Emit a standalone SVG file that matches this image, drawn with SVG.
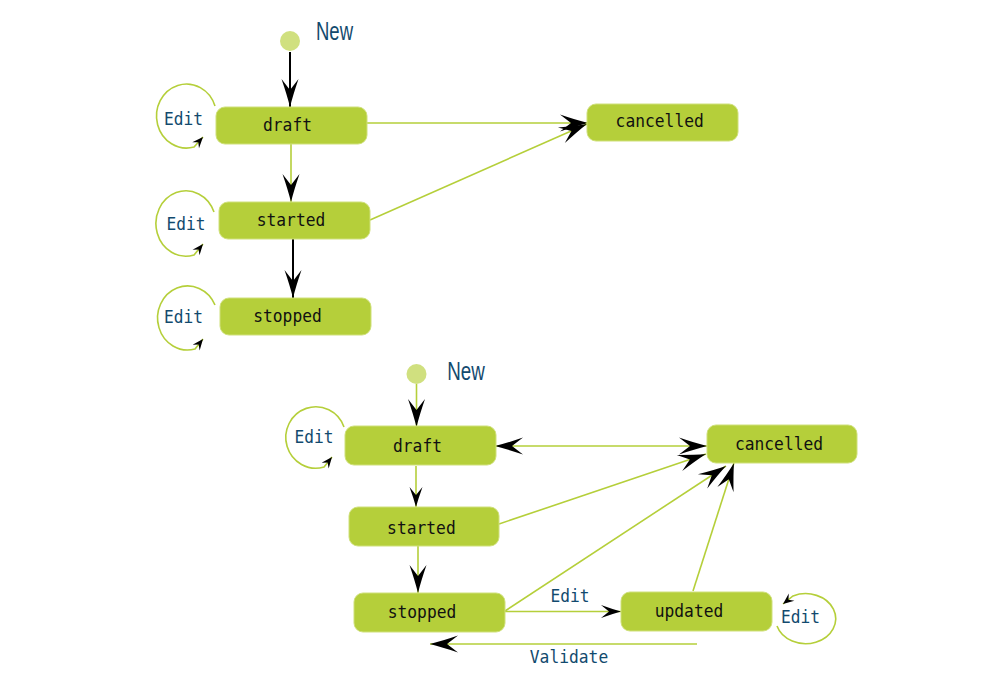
<svg xmlns="http://www.w3.org/2000/svg" width="987" height="698" viewBox="0 0 987 698">
<style>
.node rect{fill:#b5cf3a;stroke:#cfe07a;stroke-width:1}
.node text{font-family:"DejaVu Sans Mono","Liberation Mono",monospace;font-size:17.5px;fill:#111;text-anchor:middle}
.lbl{font-family:"DejaVu Sans Mono","Liberation Mono",monospace;font-size:17.5px;fill:#124a6e;text-anchor:middle}
.new{font-family:"Liberation Sans",Arial,sans-serif;font-size:25px;fill:#124a6e}
.init{fill:#d0e07f}
.g{fill:none;stroke:#b5cf3a;stroke-width:1.6}
.k{fill:none;stroke:#000;stroke-width:2}
.loop{fill:none;stroke:#b5cf3a;stroke-width:1.6;marker-end:url(#sm)}
</style>
<defs>
<marker id="ah" markerUnits="userSpaceOnUse" viewBox="-30 -10 32 20" markerWidth="32" markerHeight="20" refX="0" refY="0" orient="auto-start-reverse" overflow="visible">
<path d="M0,0 Q-12,-3 -28,-8.5 L-17,0 L-28,8.5 Q-12,3 0,0Z" fill="#000"/>
</marker>
<marker id="am" markerUnits="userSpaceOnUse" viewBox="-22 -8 24 16" markerWidth="24" markerHeight="16" refX="0" refY="0" orient="auto" overflow="visible">
<path d="M0,0 Q-9,-2.5 -20,-6.5 L-12,0 L-20,6.5 Q-9,2.5 0,0Z" fill="#000"/>
</marker>
<marker id="sm" markerUnits="userSpaceOnUse" viewBox="-12 -6 14 12" markerWidth="14" markerHeight="12" refX="0" refY="0" orient="auto" overflow="visible">
<path d="M0,0 L-11,-4.5 L-7,0 L-11,4.5Z" fill="#000"/>
</marker>
</defs>

<g id="connectors">
<path class="k" d="M290,52 L290,107" marker-end="url(#ah)"/>
<path class="g" d="M291,144 L291,202" marker-end="url(#ah)"/>
<path class="k" d="M293,239 L293,298" marker-end="url(#ah)"/>
<path class="g" d="M367,123 L588,123" marker-end="url(#ah)"/>
<path class="g" d="M370,220 L587,124" marker-end="url(#ah)"/>
<path class="loop" d="M215,106 A30,32 0 1 0 194,147 L203,137"/>
<path class="loop" d="M214,212 A30,32.7 0 1 0 194,255 L203,244"/>
<path class="loop" d="M215,305 A30,32 0 1 0 195,349 L203,339"/>

<path class="g" d="M416.5,384 L416.5,427" marker-end="url(#ah)"/>
<path class="g" d="M416,466 L416,507" marker-end="url(#am)"/>
<path class="g" d="M418,546 L418,593" marker-end="url(#ah)"/>
<path class="g" d="M495,446 L707,446" marker-start="url(#ah)" marker-end="url(#ah)"/>
<path class="g" d="M499,524 L706,454" marker-end="url(#ah)"/>
<path class="g" d="M505,611 L726,466" marker-end="url(#ah)"/>
<path class="g" d="M693,591 L734,463" marker-end="url(#ah)"/>
<path class="g" d="M505,611.5 L621,611.5" marker-end="url(#am)"/>
<path class="g" d="M697,644 L430,644" marker-end="url(#ah)"/>
<path class="loop" d="M344,427 A30,30.7 0 1 0 324,467 L332,457"/>
<path class="loop" d="M777,626 A30,25 0 1 0 793,596 L783,604"/>

<text class="lbl" x="183.5" y="125" textLength="39" lengthAdjust="spacingAndGlyphs">Edit</text>
<text class="lbl" x="186" y="230" textLength="39" lengthAdjust="spacingAndGlyphs">Edit</text>
<text class="lbl" x="183.5" y="323.3" textLength="39" lengthAdjust="spacingAndGlyphs">Edit</text>
<text class="lbl" x="314" y="442.7" textLength="39" lengthAdjust="spacingAndGlyphs">Edit</text>
<text class="lbl" x="800.5" y="623.3" textLength="39" lengthAdjust="spacingAndGlyphs">Edit</text>
<text class="lbl" x="570" y="602.3" textLength="39" lengthAdjust="spacingAndGlyphs">Edit</text>
<text class="lbl" x="569" y="663.3" textLength="78.4" lengthAdjust="spacingAndGlyphs">Validate</text>
</g>

<g id="init1"><circle class="init" cx="290" cy="41" r="10"/><text class="new" x="316" y="40" textLength="37" lengthAdjust="spacingAndGlyphs">New</text></g>
<g id="draft1" class="node"><rect x="216" y="107" width="151" height="37" rx="9"/><text x="287.5" y="131" textLength="49" lengthAdjust="spacingAndGlyphs">draft</text></g>
<g id="started1" class="node"><rect x="219" y="202" width="151" height="37" rx="9"/><text x="291" y="226" textLength="68.6" lengthAdjust="spacingAndGlyphs">started</text></g>
<g id="stopped1" class="node"><rect x="220" y="298" width="151" height="37" rx="9"/><text x="287.5" y="321.7" textLength="68.6" lengthAdjust="spacingAndGlyphs">stopped</text></g>
<g id="cancelled1" class="node"><rect x="587" y="104" width="151" height="37" rx="9"/><text x="659.7" y="127.3" textLength="88.2" lengthAdjust="spacingAndGlyphs">cancelled</text></g>

<g id="init2"><circle class="init" cx="416.5" cy="374" r="10"/><text class="new" x="447.3" y="380" textLength="37.5" lengthAdjust="spacingAndGlyphs">New</text></g>
<g id="draft2" class="node"><rect x="345" y="426" width="151" height="39" rx="9"/><text x="417.5" y="451.7" textLength="49" lengthAdjust="spacingAndGlyphs">draft</text></g>
<g id="started2" class="node"><rect x="349" y="507" width="150" height="39" rx="9"/><text x="421.4" y="533.5" textLength="68.6" lengthAdjust="spacingAndGlyphs">started</text></g>
<g id="stopped2" class="node"><rect x="354" y="593" width="151" height="39" rx="9"/><text x="422" y="618" textLength="68.6" lengthAdjust="spacingAndGlyphs">stopped</text></g>
<g id="updated" class="node"><rect x="621" y="592" width="151" height="39" rx="9"/><text x="689" y="616.7" textLength="68.6" lengthAdjust="spacingAndGlyphs">updated</text></g>
<g id="cancelled2" class="node"><rect x="707" y="425" width="150" height="38" rx="9"/><text x="779" y="450" textLength="88.2" lengthAdjust="spacingAndGlyphs">cancelled</text></g>
</svg>
